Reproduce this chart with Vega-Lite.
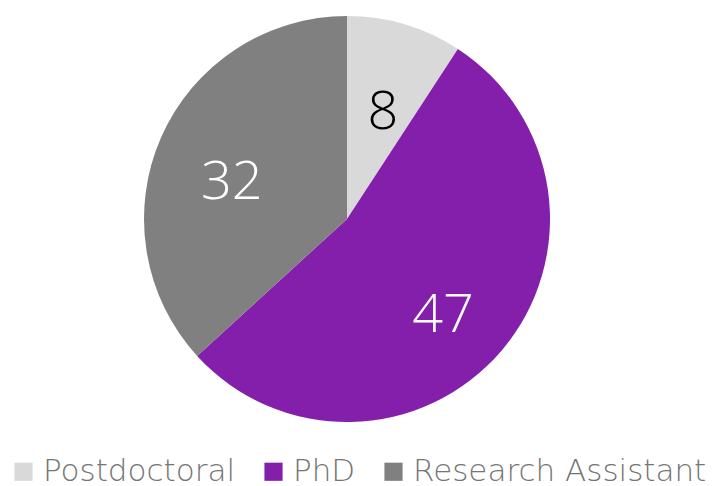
{
  "$schema": "https://vega.github.io/schema/vega-lite/v6.json",
  "width": 694,
  "height": 438,
  "padding": {"left": 0, "top": 0, "right": 19, "bottom": 48},
  "autosize": {"type": "none"},
  "background": "white",
  "data": {"values": [
    {"role": "Postdoctoral", "count": 8, "order": 1},
    {"role": "PhD", "count": 47, "order": 2},
    {"role": "Research Assistant", "count": 32, "order": 3}
  ]},
  "encoding": {
    "theta": {"field": "count", "type": "quantitative", "stack": true},
    "order": {"field": "order", "type": "quantitative"}
  },
  "layer": [
    {
      "mark": {"type": "arc", "outerRadius": 203},
      "encoding": {
        "color": {
          "field": "role", "type": "nominal",
          "sort": ["Postdoctoral", "PhD", "Research Assistant"],
          "scale": {"domain": ["Postdoctoral", "PhD", "Research Assistant"], "range": ["#D9D9D9", "#841FAB", "#808080"]},
          "legend": {
            "orient": "none", "legendX": 8, "legendY": 456, "direction": "horizontal", "title": null,
            "symbolType": "square", "symbolSize": 330, "symbolStrokeWidth": 0,
            "labelFont": "DejaVu Sans", "labelFontWeight": 200, "labelFontSize": 31, "labelColor": "#757575",
            "columnPadding": 22, "labelOffset": 4, "labelLimit": 400
          }
        }
      }
    },
    {
      "mark": {"type": "text", "radius": 126, "dy": 15, "font": "Open Sans", "fontWeight": 300, "fontSize": 54, "baseline": "middle", "align": "center"},
      "encoding": {
        "text": {"field": "count", "type": "quantitative"},
        "color": {
          "condition": {"test": "datum.role === 'Postdoctoral'", "value": "black"},
          "value": "white"
        }
      }
    }
  ]
}
